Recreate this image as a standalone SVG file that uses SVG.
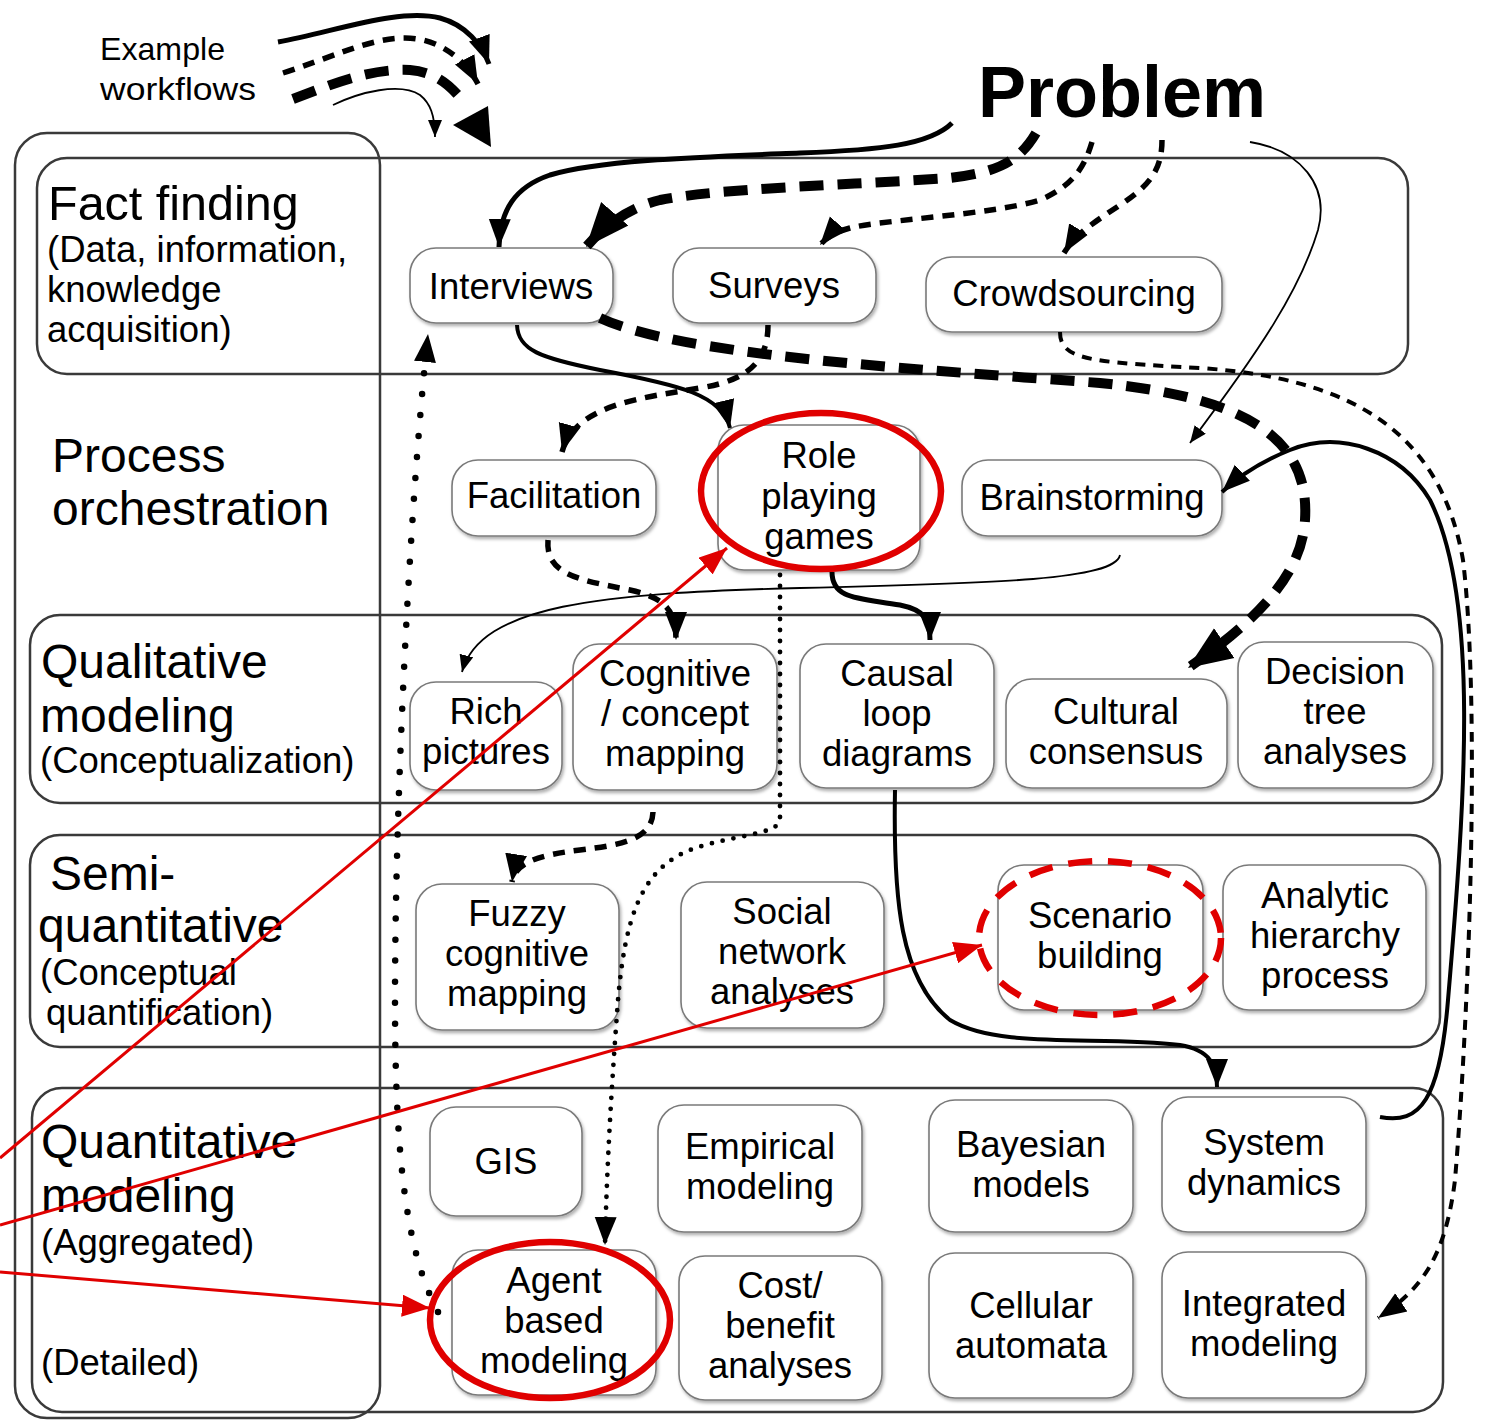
<svg xmlns="http://www.w3.org/2000/svg" width="1485" height="1420" viewBox="0 0 1485 1420">
<style>
text{font-family:"Liberation Sans",Arial,sans-serif;fill:#000}
.n text{font-size:36.5px;text-anchor:middle}
.n rect{fill:#fff;stroke:#7a7a7a;stroke-width:1.6;filter:url(#sh)}
.lane{fill:none;stroke:#3a3a3a;stroke-width:2.5}
.big{font-size:48px}
.sub{font-size:36.5px}
.c{fill:none;stroke:#000}
.solidT{stroke-width:5}
.solidM{stroke-width:4}
.thin{stroke-width:1.8}
.dashT{stroke-width:10;stroke-dasharray:24 14}
.dashM{stroke-width:5.5;stroke-dasharray:12 9}
.dashS{stroke-width:4;stroke-dasharray:10 8}
.dotS{stroke-width:4.8;stroke-dasharray:0 11;stroke-linecap:round}
.dotL{stroke-width:6.5;stroke-dasharray:0 21;stroke-linecap:round}
.red{fill:none;stroke:#e00000}
.leg{font-family:"Liberation Sans",Arial,sans-serif;font-size:32px}
</style>
<defs>
<filter id="sh" x="-10%" y="-10%" width="125%" height="130%">
<feDropShadow dx="1.5" dy="2.5" stdDeviation="1.8" flood-color="#000" flood-opacity="0.3"/>
</filter>
<marker id="aL" markerUnits="userSpaceOnUse" markerWidth="46" markerHeight="40" refX="44" refY="20" orient="auto"><path d="M0,2 L44,20 L0,38 z" fill="#000"/></marker>
<marker id="aM" markerUnits="userSpaceOnUse" markerWidth="30" markerHeight="24" refX="28" refY="12" orient="auto"><path d="M0,1 L28,12 L0,23 z" fill="#000"/></marker>
<marker id="aS" markerUnits="userSpaceOnUse" markerWidth="18" markerHeight="14" refX="17" refY="7" orient="auto"><path d="M0,0 L17,7 L0,14 z" fill="#000"/></marker>
<marker id="aR" markerUnits="userSpaceOnUse" markerWidth="30" markerHeight="22" refX="28" refY="11" orient="auto"><path d="M0,0 L28,11 L0,22 z" fill="#e00000"/></marker>
</defs>
<rect width="1485" height="1420" fill="#fff"/>

<g id="lanes">
<rect class="lane" x="15" y="133" width="365" height="1285" rx="32"/>
<rect class="lane" x="37" y="158" width="1371" height="216" rx="30"/>
<rect class="lane" x="30" y="615" width="1412" height="188" rx="30"/>
<rect class="lane" x="30" y="835" width="1410" height="212" rx="30"/>
<rect class="lane" x="32" y="1088" width="1411" height="324" rx="30"/>
</g>

<g id="lane-labels">
<text x="48" y="220" style="font-size:48.5px">Fact finding</text>
<text class="sub" x="47" y="262">(Data, information,</text>
<text class="sub" x="47" y="302">knowledge</text>
<text class="sub" x="47" y="342">acquisition)</text>
<text class="big" x="52" y="472">Process</text>
<text class="big" x="52" y="525">orchestration</text>
<text class="big" x="41" y="678">Qualitative</text>
<text class="big" x="40" y="732">modeling</text>
<text class="sub" x="40" y="773">(Conceptualization)</text>
<text class="big" x="50" y="890">Semi-</text>
<text class="big" x="38" y="942">quantitative</text>
<text class="sub" x="40" y="985">(Conceptual</text>
<text class="sub" x="46" y="1025">quantification)</text>
<text class="big" x="41" y="1158">Quantitative</text>
<text class="big" x="41" y="1212">modeling</text>
<text class="sub" x="41" y="1255">(Aggregated)</text>
<text class="sub" x="41" y="1375">(Detailed)</text>
</g>

<g id="problem"><text x="978" y="117" style="font-size:72px;font-weight:bold">Problem</text></g>

<g id="legend">
<text class="leg" x="100" y="60" textLength="125" lengthAdjust="spacingAndGlyphs">Example</text>
<text class="leg" x="100" y="100" textLength="156" lengthAdjust="spacingAndGlyphs">workflows</text>
<path class="c solidT" d="M278,42 C340,30 400,8 440,18 C466,25 482,45 489,64" marker-end="url(#aM)"/>
<path class="c dashM" d="M283,73 C330,58 370,38 405,38 C440,38 465,60 478,84" marker-end="url(#aM)"/>
<path class="c dashT" d="M293,99 C330,85 370,68 410,70 C435,72 450,85 462,100"/>
<polygon points="453,125 488,106 491,147" fill="#000"/>
<path class="c thin" d="M333,105 C360,92 400,82 420,95 C430,103 435,115 435,137" marker-end="url(#aS)"/>
</g>

<g id="n-interviews" class="n"><rect x="410" y="248" width="203" height="75" rx="26"/><text x="511" y="299">Interviews</text></g>
<g id="n-surveys" class="n"><rect x="673" y="248" width="203" height="75" rx="26"/><text x="774" y="298">Surveys</text></g>
<g id="n-crowdsourcing" class="n"><rect x="926" y="257" width="296" height="75" rx="26"/><text x="1074" y="306">Crowdsourcing</text></g>
<g id="n-facilitation" class="n"><rect x="452" y="460" width="204" height="76" rx="26"/><text x="554" y="508">Facilitation</text></g>
<g id="n-roleplaying" class="n"><rect x="718" y="425" width="202" height="145" rx="26"/><text x="819" y="468">Role</text><text x="819" y="509">playing</text><text x="819" y="549">games</text></g>
<g id="n-brainstorming" class="n"><rect x="962" y="460" width="260" height="76" rx="26"/><text x="1092" y="510">Brainstorming</text></g>
<g id="n-richpictures" class="n"><rect x="410" y="682" width="152" height="108" rx="26"/><text x="486" y="724">Rich</text><text x="486" y="764">pictures</text></g>
<g id="n-cognitive" class="n"><rect x="573" y="644" width="204" height="146" rx="26"/><text x="675" y="686">Cognitive</text><text x="675" y="726">/ concept</text><text x="675" y="766">mapping</text></g>
<g id="n-causalloop" class="n"><rect x="800" y="644" width="194" height="144" rx="26"/><text x="897" y="686">Causal</text><text x="897" y="726">loop</text><text x="897" y="766">diagrams</text></g>
<g id="n-cultural" class="n"><rect x="1006" y="679" width="221" height="109" rx="26"/><text x="1116" y="724">Cultural</text><text x="1116" y="764">consensus</text></g>
<g id="n-decisiontree" class="n"><rect x="1238" y="642" width="195" height="146" rx="26"/><text x="1335" y="684">Decision</text><text x="1335" y="724">tree</text><text x="1335" y="764">analyses</text></g>
<g id="n-fuzzy" class="n"><rect x="416" y="884" width="203" height="146" rx="26"/><text x="517" y="926">Fuzzy</text><text x="517" y="966">cognitive</text><text x="517" y="1006">mapping</text></g>
<g id="n-social" class="n"><rect x="681" y="882" width="203" height="146" rx="26"/><text x="782" y="924">Social</text><text x="782" y="964">network</text><text x="782" y="1004">analyses</text></g>
<g id="n-scenario" class="n"><rect x="998" y="865" width="205" height="145" rx="26"/><text x="1100" y="928">Scenario</text><text x="1100" y="968">building</text></g>
<g id="n-ahp" class="n"><rect x="1223" y="865" width="203" height="145" rx="26"/><text x="1325" y="908">Analytic</text><text x="1325" y="948">hierarchy</text><text x="1325" y="988">process</text></g>
<g id="n-gis" class="n"><rect x="430" y="1107" width="152" height="109" rx="26"/><text x="506" y="1174">GIS</text></g>
<g id="n-empirical" class="n"><rect x="658" y="1105" width="204" height="127" rx="26"/><text x="760" y="1159">Empirical</text><text x="760" y="1199">modeling</text></g>
<g id="n-bayesian" class="n"><rect x="929" y="1100" width="204" height="132" rx="26"/><text x="1031" y="1157">Bayesian</text><text x="1031" y="1197">models</text></g>
<g id="n-systemdynamics" class="n"><rect x="1162" y="1097" width="204" height="135" rx="26"/><text x="1264" y="1155">System</text><text x="1264" y="1195">dynamics</text></g>
<g id="n-agentbased" class="n"><rect x="452" y="1250" width="204" height="145" rx="26"/><text x="554" y="1293">Agent</text><text x="554" y="1333">based</text><text x="554" y="1373">modeling</text></g>
<g id="n-costbenefit" class="n"><rect x="679" y="1256" width="203" height="144" rx="26"/><text x="780" y="1298">Cost/</text><text x="780" y="1338">benefit</text><text x="780" y="1378">analyses</text></g>
<g id="n-cellular" class="n"><rect x="929" y="1253" width="204" height="145" rx="26"/><text x="1031" y="1318">Cellular</text><text x="1031" y="1358">automata</text></g>
<g id="n-integrated" class="n"><rect x="1162" y="1252" width="204" height="146" rx="26"/><text x="1264" y="1316">Integrated</text><text x="1264" y="1356">modeling</text></g>

<g id="connectors">
<path class="c solidT" d="M952,123 C930,145 880,150 800,153 C700,157 600,160 550,175 C515,187 500,210 499,247" marker-end="url(#aM)"/>
<path class="c dashT" d="M1036,133 C1020,160 1000,172 950,178 C850,185 720,188 660,200 C630,207 605,225 586,247" marker-end="url(#aL)"/>
<path class="c dashM" d="M1092,142 C1085,165 1075,185 1040,200 C990,215 880,220 850,228 C835,232 826,238 820,245" marker-end="url(#aM)"/>
<path class="c dashM" d="M1162,140 C1162,170 1150,185 1120,205 C1090,225 1075,235 1064,253" marker-end="url(#aM)"/>
<path class="c thin" d="M1250,142 C1300,150 1330,185 1318,230 C1300,290 1260,350 1190,443" marker-end="url(#aS)"/>
<path class="c dashT" d="M600,318 C680,355 900,368 1100,383 C1250,398 1310,440 1305,520 C1302,570 1265,615 1188,668" marker-end="url(#aL)"/>
<path class="c solidM" d="M517,325 C518,350 540,358 600,370 C680,385 722,395 730,428" marker-end="url(#aM)"/>
<path class="c dashM" d="M768,325 C768,360 750,380 700,388 C640,398 575,405 562,452" marker-end="url(#aM)"/>
<path class="c dashS" d="M1060,332 C1060,360 1090,362 1200,368 C1350,378 1440,430 1463,560 C1480,700 1470,1000 1455,1180 C1445,1260 1420,1290 1378,1318" marker-end="url(#aM)"/>
<path class="c solidM" d="M1380,1117 C1420,1125 1440,1100 1448,1000 C1465,800 1480,600 1430,500 C1400,450 1340,430 1290,450 C1260,462 1240,475 1222,492" marker-end="url(#aM)"/>
<path class="c thin" d="M1120,555 C1115,580 1000,583 800,588 C600,593 480,605 462,672" marker-end="url(#aS)"/>
<path class="c dashM" d="M548,540 C545,575 580,580 630,590 C665,598 676,610 676,640" marker-end="url(#aM)"/>
<path class="c solidT" d="M832,572 C832,600 860,598 900,605 C925,610 930,620 930,640" marker-end="url(#aM)"/>
<path class="c dotS" d="M780,575 L780,820 C778,835 730,835 690,850 C640,870 625,920 618,1000 C612,1080 607,1160 605,1245" marker-end="url(#aM)"/>
<path class="c dashM" d="M653,812 C652,840 620,845 580,850 C540,855 515,862 512,882" marker-end="url(#aM)"/>
<path class="c solidM" d="M895,790 C893,900 900,980 950,1020 C1000,1050 1100,1035 1180,1045 C1210,1050 1217,1065 1217,1087" marker-end="url(#aM)"/>
<path class="c dotL" d="M438,1312 C405,1250 395,1150 395,1000 C395,800 410,500 428,334" marker-end="url(#aM)"/>
</g>

<g id="annotations">
<ellipse class="red" cx="821" cy="491" rx="120" ry="78" stroke-width="6.5"/>
<ellipse class="red" cx="1100" cy="938" rx="121" ry="77" stroke-width="6.5" stroke-dasharray="24 16"/>
<ellipse class="red" cx="550" cy="1320" rx="120" ry="78" stroke-width="6.5"/>
<line class="red" x1="0" y1="1158" x2="727" y2="548" stroke-width="3" marker-end="url(#aR)"/>
<line class="red" x1="0" y1="1225" x2="982" y2="945" stroke-width="3" marker-end="url(#aR)"/>
<line class="red" x1="0" y1="1272" x2="430" y2="1308" stroke-width="3" marker-end="url(#aR)"/>
</g>
</svg>
